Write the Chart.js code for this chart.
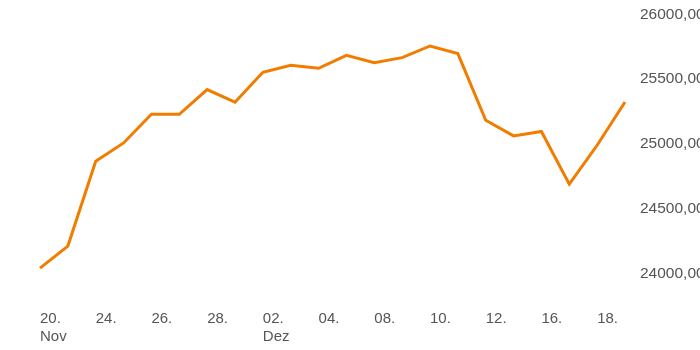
<!DOCTYPE html>
<html>
<head>
<meta charset="utf-8">
<script src="https://cdn.jsdelivr.net/npm/chart.js@4"></script>
<style>
html,body{margin:0;padding:0;background:#fff;overflow:hidden;}
canvas{display:block;}
</style>
</head>
<body>
<canvas id="c" width="700" height="350"></canvas>
<script>
const categories = ["20.","21.","24.","25.","26.","27.","28.","29.","02.","03.","04.","05.","08.","09.","10.","11.","12.","15.","16.","17.","18.","19."];
const monthLabels = {0: "Nov", 8: "Dez"};
const shownLabelIdx = [0,2,4,6,8,10,12,14,16,18,20];
const values = [24042,24212,24867,25008,25229,25229,25420,25322,25553,25607,25584,25684,25627,25666,25756,25697,25183,25062,25096,24690,24990,25324];
const yTicks = [24000,24500,25000,25500,26000];

const fontFam = "'Liberation Sans', Arial, Helvetica, sans-serif";
new Chart(document.getElementById('c'), {
  type: 'line',
  data: {
    labels: categories,
    datasets: [{
      data: values,
      borderColor: '#f07d00',
      borderWidth: 3,
      pointRadius: 0,
      tension: 0,
      fill: false
    }]
  },
  options: {
    responsive: false,
    animation: false,
    layout: {padding: {left: 40, top: 0, right: 0, bottom: 0}},
    plugins: {legend: {display: false}, tooltip: {enabled: false}},
    scales: {
      x: {
        offset: false,
        grid: {display: false},
        border: {display: false},
        afterFit: s => { s.height = 50; },
        ticks: {
          autoSkip: false,
          maxRotation: 0,
          minRotation: 0,
          align: 'start',
          padding: 2,
          color: '#555',
          font: {family: fontFam, size: 15},
          callback: function(v, i) {
            if (!shownLabelIdx.includes(i)) return '';
            if (monthLabels[i]) return [categories[i], monthLabels[i]];
            return categories[i];
          }
        }
      },
      y: {
        position: 'right',
        min: 23796,
        max: 25985,
        grid: {display: false},
        border: {display: false},
        afterFit: s => { s.width = 75; },
        afterBuildTicks: s => { s.ticks = yTicks.map(v => ({value: v})); },
        ticks: {
          padding: 7,
          color: '#555',
          font: {family: fontFam, size: 15.5},
          callback: v => v.toFixed(2).replace('.', ',')
        }
      }
    }
  }
});
</script>
</body>
</html>
